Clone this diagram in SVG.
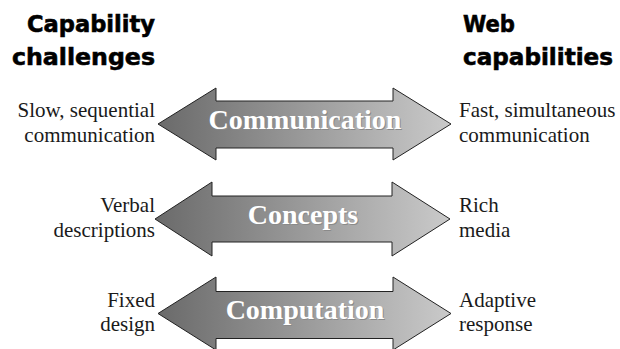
<svg xmlns="http://www.w3.org/2000/svg" width="620" height="349" viewBox="0 0 620 349">
  <defs>
    <linearGradient id="grad" x1="0" y1="0" x2="1" y2="0">
      <stop offset="0" stop-color="#6a6a6a"/>
      <stop offset="0.5" stop-color="#9a9a9a"/>
      <stop offset="1" stop-color="#cacaca"/>
    </linearGradient>
  </defs>
  <style>
    .hdr { font-family: 'DejaVu Sans', 'Liberation Sans', sans-serif; font-weight: bold; font-size: 23px; fill: #000; stroke: #000; stroke-width: 0.6px; }
    .side { font-family: 'Liberation Serif', 'DejaVu Serif', 'Times New Roman', serif; font-size: 21px; fill: #1a1a1a; }
    .arrow { fill: url(#grad); stroke: #222; stroke-width: 1; }
    .alabel { font-family: 'Liberation Serif', 'DejaVu Serif', 'Times New Roman', serif; font-weight: bold; font-size: 28px; fill: #fff; text-anchor: middle; }
    .shadow { fill: #8a8a8a; }
  </style>
  <rect width="620" height="349" fill="#fff"/>

  <g id="header-left">
    <text class="hdr" x="155" y="32" text-anchor="end" textLength="128" lengthAdjust="spacingAndGlyphs">Capability</text>
    <text class="hdr" x="155" y="65" text-anchor="end" textLength="143" lengthAdjust="spacingAndGlyphs">challenges</text>
  </g>
  <g id="header-right">
    <text class="hdr" x="463" y="32" textLength="52" lengthAdjust="spacingAndGlyphs">Web</text>
    <text class="hdr" x="463" y="65" textLength="150" lengthAdjust="spacingAndGlyphs">capabilities</text>
  </g>

  <g id="arrow-communication">
    <polygon class="arrow" points="158,124 216,88 216,101 393,101 393,88 451,124 393,160 393,148 216,148 216,160"/>
    <text class="alabel shadow" x="306" y="130">Communication</text>
    <text class="alabel" x="305" y="129">Communication</text>
  </g>
  <g id="arrow-concepts">
    <polygon class="arrow" points="155,219 212,182 212,196 392,196 392,182 450,219 392,256 392,242 212,242 212,256"/>
    <text class="alabel shadow" x="304" y="225">Concepts</text>
    <text class="alabel" x="303" y="224">Concepts</text>
  </g>
  <g id="arrow-computation">
    <polygon class="arrow" points="158,313.5 216,277 216,291.5 393,291.5 393,277 451,313.5 393,350 393,338.5 216,338.5 216,350"/>
    <text class="alabel shadow" x="306" y="320">Computation</text>
    <text class="alabel" x="305" y="319">Computation</text>
  </g>

  <g id="left-communication">
    <text class="side" x="155" y="117" text-anchor="end">Slow, sequential</text>
    <text class="side" x="155" y="142" text-anchor="end">communication</text>
  </g>
  <g id="right-communication">
    <text class="side" x="459" y="117">Fast, simultaneous</text>
    <text class="side" x="459" y="142">communication</text>
  </g>
  <g id="left-concepts">
    <text class="side" x="155" y="212" text-anchor="end">Verbal</text>
    <text class="side" x="155" y="237" text-anchor="end">descriptions</text>
  </g>
  <g id="right-concepts">
    <text class="side" x="459" y="212">Rich</text>
    <text class="side" x="459" y="237">media</text>
  </g>
  <g id="left-computation">
    <text class="side" x="155" y="307" text-anchor="end">Fixed</text>
    <text class="side" x="155" y="331" text-anchor="end">design</text>
  </g>
  <g id="right-computation">
    <text class="side" x="459" y="307">Adaptive</text>
    <text class="side" x="459" y="331">response</text>
  </g>
  <g id="connectors"></g>
</svg>
